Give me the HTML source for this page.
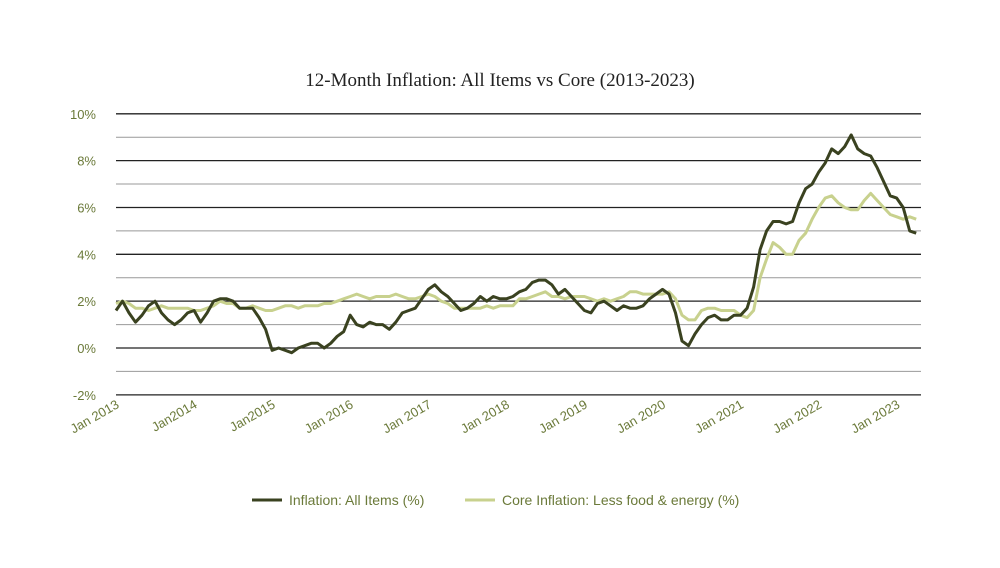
<!DOCTYPE html>
<html><head><meta charset="utf-8"><style>
body{margin:0;background:#fff;width:1000px;height:563px;overflow:hidden}
svg text{font-family:"Liberation Sans",sans-serif}
</style></head><body>
<svg id="c" width="1000" height="563">
<text x="500" y="86" text-anchor="middle" font-size="19" fill="#222" style="font-family:'Liberation Serif',serif">12-Month Inflation: All Items vs Core (2013-2023)</text>
<g id="grid"></g>
<g id="yt"></g>
<g id="xt"></g>
<g id="lines"></g>
<g>
<line x1="252" y1="500" x2="282" y2="500" stroke="#3a4220" stroke-width="3"/>
<text x="289" y="505" font-size="14" fill="#6b7a3a">Inflation: All Items (%)</text>
<line x1="465" y1="500" x2="495" y2="500" stroke="#c8d18e" stroke-width="3"/>
<text x="502" y="505" font-size="14" fill="#6b7a3a">Core Inflation: Less food &amp; energy (%)</text>
</g>
</svg>
<script>
const yTicks=[10,8,6,4,2,0,-2];
const yTickLabels=["10%","8%","6%","4%","2%","0%","-2%"];
const xTickLabels=["Jan 2013","Jan2014","Jan2015","Jan 2016","Jan 2017","Jan 2018","Jan 2019","Jan 2020","Jan 2021","Jan 2022","Jan 2023"];
const allItems=[1.6,2.0,1.5,1.1,1.4,1.8,2.0,1.5,1.2,1.0,1.2,1.5,
1.6,1.1,1.5,2.0,2.1,2.1,2.0,1.7,1.7,1.7,1.3,0.8,
-0.1,0.0,-0.1,-0.2,0.0,0.1,0.2,0.2,0.0,0.2,0.5,0.7,
1.4,1.0,0.9,1.1,1.0,1.0,0.8,1.1,1.5,1.6,1.7,2.1,
2.5,2.7,2.4,2.2,1.9,1.6,1.7,1.9,2.2,2.0,2.2,2.1,
2.1,2.2,2.4,2.5,2.8,2.9,2.9,2.7,2.3,2.5,2.2,1.9,
1.6,1.5,1.9,2.0,1.8,1.6,1.8,1.7,1.7,1.8,2.1,2.3,
2.5,2.3,1.5,0.3,0.1,0.6,1.0,1.3,1.4,1.2,1.2,1.4,
1.4,1.7,2.6,4.2,5.0,5.4,5.4,5.3,5.4,6.2,6.8,7.0,
7.5,7.9,8.5,8.3,8.6,9.1,8.5,8.3,8.2,7.7,7.1,6.5,
6.4,6.0,5.0,4.9];
const core=[1.9,2.0,1.9,1.7,1.7,1.6,1.7,1.8,1.7,1.7,1.7,1.7,
1.6,1.6,1.7,1.8,2.0,1.9,1.9,1.7,1.7,1.8,1.7,1.6,
1.6,1.7,1.8,1.8,1.7,1.8,1.8,1.8,1.9,1.9,2.0,2.1,
2.2,2.3,2.2,2.1,2.2,2.2,2.2,2.3,2.2,2.1,2.1,2.2,
2.3,2.2,2.0,1.9,1.7,1.7,1.7,1.7,1.7,1.8,1.7,1.8,
1.8,1.8,2.1,2.1,2.2,2.3,2.4,2.2,2.2,2.1,2.2,2.2,
2.2,2.1,2.0,2.1,2.0,2.1,2.2,2.4,2.4,2.3,2.3,2.3,
2.3,2.4,2.1,1.4,1.2,1.2,1.6,1.7,1.7,1.6,1.6,1.6,
1.4,1.3,1.6,3.0,3.8,4.5,4.3,4.0,4.0,4.6,4.9,5.5,
6.0,6.4,6.5,6.2,6.0,5.9,5.9,6.3,6.6,6.3,6.0,5.7,
5.6,5.5,5.6,5.5];
const NS="http://www.w3.org/2000/svg";
const y=v=>348-v*23.42;
const x=i=>116+i*6.506;
const grid=document.getElementById('grid');
for(let v=10;v>=-2;v--){
 const l=document.createElementNS(NS,'line');
 
 
 l.setAttribute('x1',116);l.setAttribute('x2',921);
 l.setAttribute('y1',y(v));l.setAttribute('y2',y(v));
 l.setAttribute('stroke',v%2===0?'#222':'#999');
 l.setAttribute('stroke-width',v%2===0?1.3:1);
 grid.appendChild(l);
}
const yt=document.getElementById('yt');
yTicks.forEach((v,k)=>{
 const t=document.createElementNS(NS,'text');
 
 
 t.setAttribute('x',96);t.setAttribute('y',y(v)+5);
 t.setAttribute('text-anchor','end');t.setAttribute('font-size','13');t.setAttribute('fill','#6b7a3a');
 t.textContent=yTickLabels[k];yt.appendChild(t);
});
const xt=document.getElementById('xt');
xTickLabels.forEach((s,k)=>{
 const t=document.createElementNS(NS,'text');
 
 
 const px=x(k*12)+4,py=407;
 t.setAttribute('x',px);t.setAttribute('y',py);
 t.setAttribute('text-anchor','end');t.setAttribute('font-size','13');t.setAttribute('fill','#6b7a3a');
 t.setAttribute('transform','rotate(-30 '+px+' '+py+')');
 t.textContent=s;xt.appendChild(t);
});
const lines=document.getElementById('lines');
function draw(arr,col,name){
 const p=document.createElementNS(NS,'path');
 
 
 p.setAttribute('d',arr.map((v,i)=>(i?'L':'M')+x(i).toFixed(1)+' '+y(v).toFixed(1)).join(''));
 p.setAttribute('fill','none');p.setAttribute('stroke',col);p.setAttribute('stroke-width','3');p.setAttribute('stroke-linejoin','round');
 lines.appendChild(p);
}
draw(core,'#c8d18e','core-line');
draw(allItems,'#3a4220','all-items-line');
</script>
</body></html>
